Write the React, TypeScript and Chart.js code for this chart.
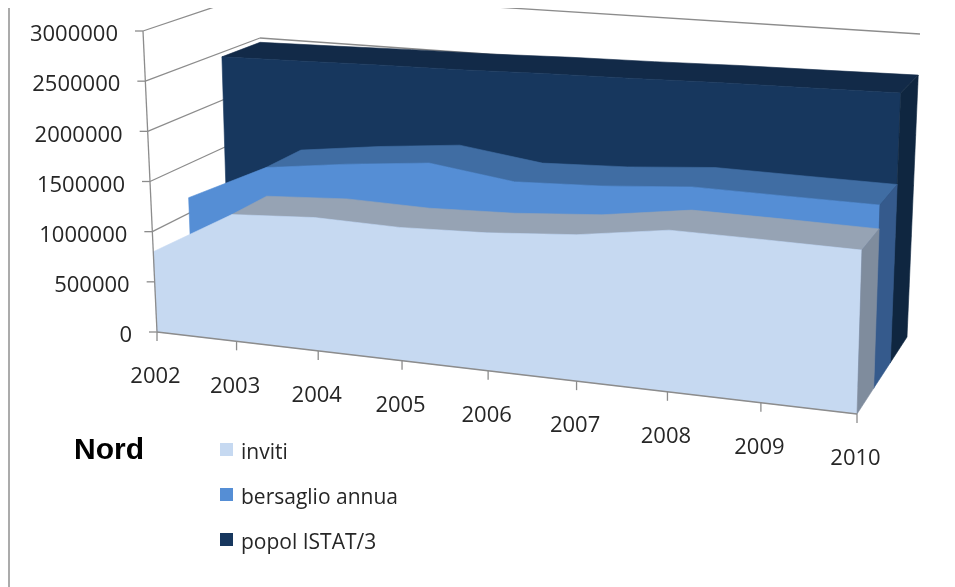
import React, { useEffect, useRef } from "react";
import { Chart, registerables } from "chart.js";

Chart.register(...registerables);

const years = ["2002", "2003", "2004", "2005", "2006", "2007", "2008", "2009", "2010"];
const inviti = [800000, 1250000, 1300000, 1285000, 1315000, 1380000, 1505000, 1500000, 1490000];
const bersaglio = [1158000, 1540000, 1648000, 1733000, 1623000, 1659000, 1727000, 1719000, 1713000];
const popol = [2453000, 2470000, 2490000, 2503000, 2528000, 2543000, 2565000, 2578000, 2593000];

const FONT = '"Open Sans", sans-serif';
const GRID = "#8c8c8c";
const TEXT = "#262626";

type Pt = [number, number];
// The picture's 3D box: corners of the plot as seen by the camera.
const box = {
  fb0: [157, 332] as Pt, fb1: [857, 414] as Pt, ft0: [143, 31] as Pt, ft1: [867, 84] as Pt,
  bb0: [265, 268] as Pt, bb1: [907, 337] as Pt, bt0: [259, -8] as Pt, bt1: [920, 34] as Pt,
};
const lerp = (a: Pt, b: Pt, t: number): Pt => [a[0] + (b[0] - a[0]) * t, a[1] + (b[1] - a[1]) * t];
const warp = (t: number) => (t <= 0 ? 0 : t / (t + 1.114 * (1 - t)));
function project(u: number, v: number, w: number): Pt {
  const t = warp(u);
  const fb = lerp(box.fb0, box.fb1, t), ft = lerp(box.ft0, box.ft1, t);
  const bb = lerp(box.bb0, box.bb1, t), bt = lerp(box.bt0, box.bt1, t);
  return lerp(lerp(fb, ft, v), lerp(bb, bt, v), w);
}

const layerStyles = [
  { front: "#C6D9F1", top: "#96A3B4", side: "#7F8C9D" },
  { front: "#558ED5", top: "#406DA3", side: "#355A8C" },
  { front: "#17375E", top: "#122A48", side: "#0F2640" },
];

function poly(ctx: CanvasRenderingContext2D, pts: Pt[], fill: string) {
  ctx.beginPath();
  pts.forEach((p, i) => (i ? ctx.lineTo(p[0], p[1]) : ctx.moveTo(p[0], p[1])));
  ctx.closePath();
  ctx.fillStyle = fill;
  ctx.strokeStyle = fill;
  ctx.lineWidth = 0.6;
  ctx.fill();
  ctx.stroke();
}
function seg(ctx: CanvasRenderingContext2D, a: Pt, b: Pt) {
  ctx.beginPath();
  ctx.moveTo(a[0], a[1]);
  ctx.lineTo(b[0], b[1]);
  ctx.stroke();
}

const perspectivePlugin = {
  id: "perspective3d",
  afterDatasetsDraw(chart: any) {
    const { ctx, chartArea: area, scales } = chart;
    const xs = scales.x, ys = scales.y;
    const U = (i: number) => (xs.getPixelForValue(i) - area.left) / area.width;
    const V = (val: number) => (area.bottom - ys.getPixelForValue(val)) / area.height;

    ctx.save();
    ctx.beginPath();
    ctx.rect(0, 8, 955, 579);
    ctx.clip();

    // grid on the left and back walls
    ctx.strokeStyle = GRID;
    ctx.lineWidth = 1.3;
    ys.ticks.forEach((tick: any) => {
      const v = V(tick.value);
      const a = project(0, v, 0), b = project(0, v, 1), c = project(1, v, 1);
      seg(ctx, a, b);
      if (v > 0) seg(ctx, b, c);
      seg(ctx, [a[0] - 8, a[1]], a);
    });

    // the three layers, from back to front
    const n = chart.data.labels.length;
    for (let d = 2; d >= 0; d--) {
      const vals = chart.data.datasets[d].data as number[];
      const st = layerStyles[d];
      const w0 = d / 3, w1 = (d + 1) / 3;
      // a steep first rise turns its top surface away from the camera
      const first = vals[1] - vals[0] > 100000 ? 1 : 0;
      const topFront: Pt[] = [], topBack: Pt[] = [];
      for (let i = first; i < n; i++) {
        topFront.push(project(U(i), V(vals[i]), w0));
        topBack.unshift(project(U(i), V(vals[i]), w1));
      }
      poly(ctx, [...topFront, ...topBack], st.top);
      const front: Pt[] = [project(0, 0, w0)];
      for (let i = 0; i < n; i++) front.push(project(U(i), V(vals[i]), w0));
      front.push(project(1, 0, w0));
      poly(ctx, front, st.front);
      poly(ctx, [
        project(1, 0, w0), project(1, V(vals[n - 1]), w0),
        project(1, V(vals[n - 1]), w1), project(1, 0, w1),
      ], st.side);
    }

    // axes and ticks
    ctx.strokeStyle = GRID;
    ctx.lineWidth = 1.3;
    seg(ctx, project(0, 0, 0), project(0, 1, 0));
    seg(ctx, project(0, 0, 0), project(1, 0, 0));
    for (let i = 0; i < n; i++) {
      const p = project(U(i), 0, 0);
      seg(ctx, p, [p[0], p[1] + 9]);
    }

    // tick labels
    ctx.font = `22px ${FONT}`;
    ctx.fillStyle = TEXT;
    ctx.textBaseline = "middle";
    ctx.textAlign = "right";
    ys.ticks.forEach((tick: any) => {
      const a = project(0, V(tick.value), 0);
      ctx.fillText(String(tick.value), a[0] - 25, a[1] + 4);
    });
    ctx.textAlign = "center";
    xs.ticks.forEach((tick: any, i: number) => {
      const p = project(U(i), 0, 0);
      ctx.fillText(tick.label, p[0] - 1.5, p[1] + 45);
    });

    // title
    ctx.textAlign = "left";
    ctx.fillStyle = "#000";
    ctx.font = `bold 30px "Liberation Sans", sans-serif`;
    ctx.fillText("Nord", 74, 451);

    // legend
    ctx.font = `21px ${FONT}`;
    const rows = [449.5, 494.5, 539.5];
    chart.data.datasets.forEach((ds: any, i: number) => {
      ctx.fillStyle = layerStyles[i].front;
      ctx.fillRect(220, rows[i] - 6.5, 13, 13);
      ctx.fillStyle = TEXT;
      ctx.fillText(ds.label, 241, rows[i] + 3.5);
    });

    // frame line on the far left
    ctx.fillStyle = "#ababab";
    ctx.fillRect(8, 8, 2, 579);
    ctx.restore();
  },
};

export default function App() {
  const ref = useRef<HTMLCanvasElement>(null);
  useEffect(() => {
    const chart = new Chart(ref.current!, {
      type: "line",
      data: {
        labels: years,
        datasets: [
          { label: "inviti", data: inviti, showLine: false, pointRadius: 0, backgroundColor: layerStyles[0].front },
          { label: "bersaglio annua", data: bersaglio, showLine: false, pointRadius: 0, backgroundColor: layerStyles[1].front },
          { label: "popol ISTAT/3", data: popol, showLine: false, pointRadius: 0, backgroundColor: layerStyles[2].front },
        ],
      },
      options: {
        animation: false,
        responsive: false,
        layout: { padding: 0 },
        plugins: { legend: { display: false }, tooltip: { enabled: false } },
        scales: {
          x: { display: false, ticks: { autoSkip: false } },
          y: { display: false, min: 0, max: 3000000, ticks: { stepSize: 500000 } },
        },
      },
      plugins: [perspectivePlugin],
    });
    return () => chart.destroy();
  }, []);
  return (
    <div style={{ position: "absolute", left: 0, top: 0, width: 955, height: 587, background: "#fff" }}>
      <canvas ref={ref} width={955} height={587} style={{ display: "block" }} />
    </div>
  );
}
